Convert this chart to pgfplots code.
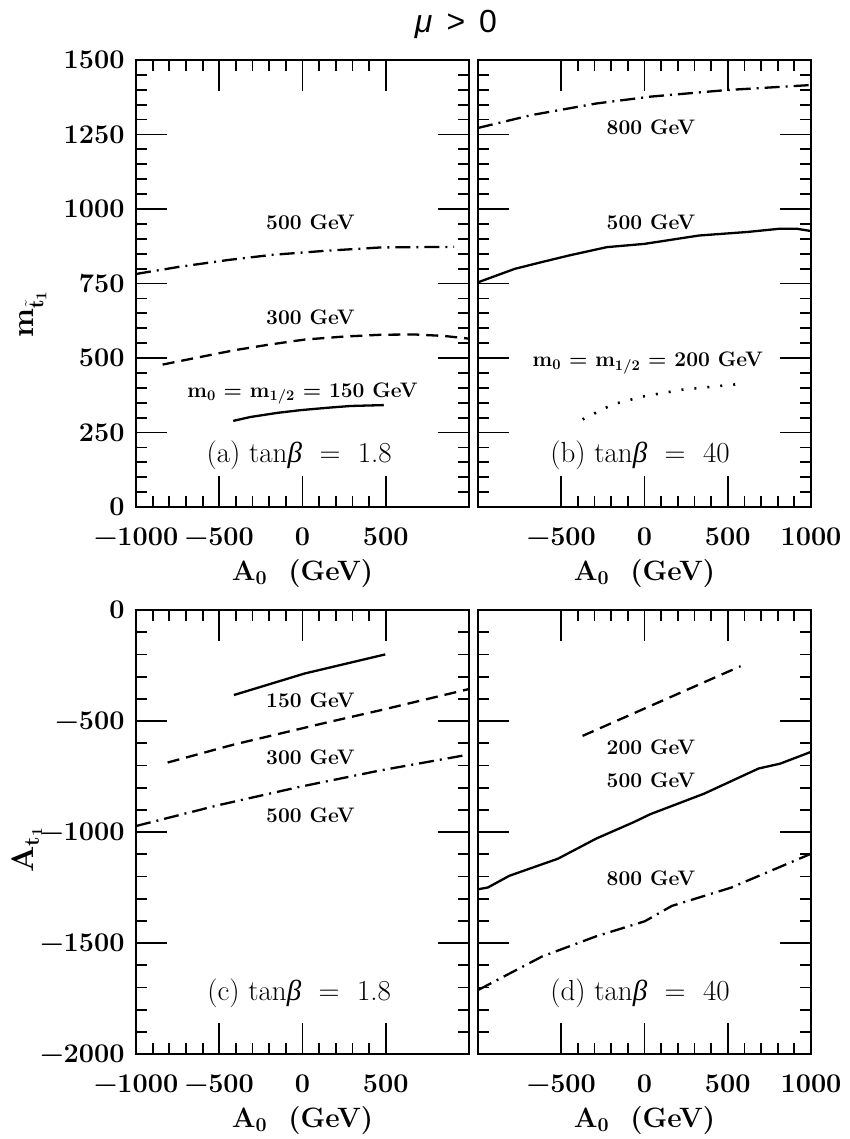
\documentclass[border=0pt]{standalone}
\usepackage{fontspec}
\newfontfamily\titlefont{Liberation Sans}
\newfontfamily\grk{Liberation Serif}
\usepackage{pgfplots}
\pgfplotsset{compat=1.18}

\pgfplotsset{
  panel/.style={
    scale only axis, width=333pt,
    xmin=-1000, xmax=1000,
    minor x tick num=4, minor y tick num=4,
    tick align=inside, xtick pos=both, ytick pos=both,
    xticklabel pos=left, yticklabel pos=left,
    major tick length=31pt, minor tick length=11pt,
    axis line style={line width=2.4pt},
    tick style={line width=1.8pt, black},
    tick label style={font=\fontsize{27}{30}\selectfont\bfseries},
    xticklabel style={yshift=-17pt},
    yticklabel style={xshift=-8pt},
    label style={font=\fontsize{28}{32}\selectfont\bfseries},
    xlabel={A\textsubscript{0}\ \ (GeV)},
    xlabel style={yshift=-7pt},
  },
  top/.style={panel, height=447pt, ymin=0, ymax=1500, ytick={0,250,...,1500},
    yticklabels={0,250,500,750,1000,1250,1500}},
  bot/.style={panel, height=444pt, ymin=-2000, ymax=0, ytick={-2000,-1500,...,0},
    yticklabels={−2000,−1500,−1000,−500,0}},
  lft/.style={xtick={-1000,-500,0,500}, xticklabels={−1000,−500,0,500}},
  rgt/.style={xtick={-500,0,500,1000}, xticklabels={−500,0,500,1000}, yticklabels={}},
  ln/.style={line width=2.3pt, black},
  dsh/.style={ln, dash pattern=on 12pt off 7pt},
  dd/.style={ln, dash pattern=on 15pt off 6pt on 2pt off 6pt},
  dt/.style={ln, line width=2.6pt, dash pattern=on 2pt off 11pt},
}
\newcommand{\gev}{\fontsize{21}{24}\selectfont\bfseries}
\newcommand{\pan}{\fontsize{29}{32}\selectfont}
\newcommand{\tb}{tan{\grk\itshape β}}

\begin{document}
\begin{tikzpicture}
\useasboundingbox (0,0) rectangle (849pt,-1139pt);

\node[font={\titlefont\fontsize{32}{36}\selectfont}] at (456pt,-24pt)
  {{\itshape μ}\hspace{14pt}>\hspace{14pt}0};
\node[rotate=90, font=\fontsize{31}{36}\selectfont\bfseries] at (33pt,-314pt)
  {m\textsubscript{$\tilde{\mathbf{t}}$\textsubscript{1}}};
\node[rotate=90, font=\fontsize{31}{36}\selectfont\bfseries] at (27pt,-850pt)
  {A\textsubscript{t\textsubscript{1}}};

% (a)
\begin{axis}[top, lft, at={(136pt,-60pt)}, anchor=north west]
\addplot[dd] coordinates {(-1000,782)(-740,806)(-445,829)(-185,846)(145,860)(470,871)(910,873)};
\addplot[dsh] coordinates {(-840,478)(-600,505)(-410,526)(-200,545)(15,562)(250,572)(470,578)(670,579)(850,574)(1000,565)};
\addplot[ln] coordinates {(-416,289)(-313,302)(-150,316)(-12,325)(150,333)(289,339)(488,342)};
\node[font=\gev] at (axis cs:48,954) {500 GeV};
\node[font=\gev] at (axis cs:48,637) {300 GeV};
\node[font=\gev, anchor=base] at (axis cs:0,369) {m\textsubscript{0}\ =\ m\textsubscript{1/2}\ =\ 150 GeV};
\node[font=\pan, anchor=base] at (axis cs:-20,150) {(a)\ \tb\ \ =\ \ 1.8};
\end{axis}

% (b)
\begin{axis}[top, rgt, at={(478pt,-60pt)}, anchor=north west]
\addplot[dd] coordinates {(-1000,1272)(-680,1315)(-290,1354)(35,1377)(490,1399)(1000,1416)};
\addplot[ln] coordinates {(-1000,754)(-780,799)(-616,822)(-454,844)(-226,872)(0,883)(327,911)(620,923)(815,934)(912,934)(1000,926)};
\addplot[dt] coordinates {(-372,294)(-193,344)(0,372)(230,394)(577,413)};
\node[font=\gev] at (axis cs:39,1273) {800 GeV};
\node[font=\gev] at (axis cs:39,957) {500 GeV};
\node[font=\gev, anchor=base] at (axis cs:20,471) {m\textsubscript{0}\ =\ m\textsubscript{1/2}\ =\ 200 GeV};
\node[font=\pan, anchor=base] at (axis cs:-27,150) {(b)\ \tb\ \ =\ \ 40};
\end{axis}

% (c)
\begin{axis}[bot, lft, at={(136pt,-610pt)}, anchor=north west]
\addplot[ln] coordinates {(-412,-383)(13,-286)(497,-200)};
\addplot[dsh] coordinates {(-810,-687)(-412,-606)(144,-507)(471,-451)(1000,-356)};
\addplot[dd] coordinates {(-1000,-973)(-510,-880)(-20,-797)(471,-722)(1000,-651)};
\node[font=\gev] at (axis cs:48,-405) {150 GeV};
\node[font=\gev] at (axis cs:48,-662) {300 GeV};
\node[font=\gev] at (axis cs:48,-923) {500 GeV};
\node[font=\pan, anchor=base] at (axis cs:-20,-1757) {(c)\ \tb\ \ =\ \ 1.8};
\end{axis}

% (d)
\begin{axis}[bot, rgt, at={(478pt,-610pt)}, anchor=north west]
\addplot[dsh] coordinates {(-372,-567)(577,-253)};
\addplot[ln] coordinates {(-1000,-1258)(-941,-1250)(-811,-1197)(-519,-1120)(-291,-1030)(-63,-955)(34,-920)(359,-827)(685,-714)(815,-692)(1000,-639)};
\addplot[dd] coordinates {(-1000,-1712)(-616,-1561)(-291,-1470)(2,-1402)(164,-1333)(522,-1250)(1000,-1098)};
\node[font=\gev] at (axis cs:39,-617) {200 GeV};
\node[font=\gev] at (axis cs:39,-766) {500 GeV};
\node[font=\gev] at (axis cs:39,-1207) {800 GeV};
\node[font=\pan, anchor=base] at (axis cs:-27,-1757) {(d)\ \tb\ \ =\ \ 40};
\end{axis}
\end{tikzpicture}
\end{document}
